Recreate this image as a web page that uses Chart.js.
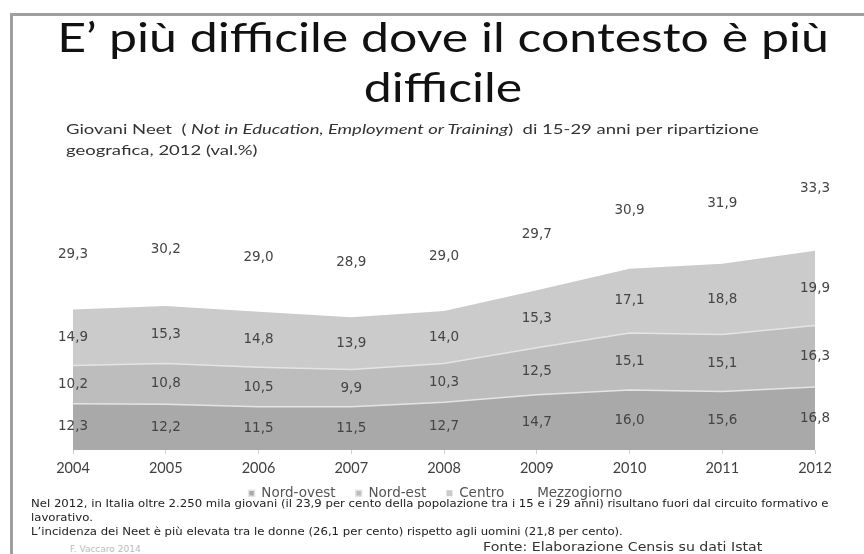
<!DOCTYPE html>
<html>
<head>
<meta charset="utf-8">
<script src="https://cdn.jsdelivr.net/npm/chart.js@4.4.1/dist/chart.umd.min.js"></script>
<style>
  html, body { margin: 0; padding: 0; background: #fff; }
  #wrap { position: relative; width: 864px; height: 554px; overflow: hidden; background: #fff; }
  #frame { position: absolute; left: 10px; top: 13px; width: 870px; height: 600px;
           border-left: 3px solid #a0a0a0; border-top: 3px solid #a0a0a0; }
  .t { position: absolute; white-space: nowrap; z-index: 2; transform-origin: 0 0; }
  #title { left: 0; width: 886px; top: 12px; text-align: center; font-family: Lato, sans-serif;
           font-size: 40px; line-height: 50px; color: #111; transform-origin: 443px 0; transform: scaleX(1.25); }
  #sub { left: 66px; top: 119px; font-family: Lato, sans-serif; font-size: 14px; line-height: 20.5px; color: #333;
         transform: scaleX(1.32); }
  #note { left: 31px; top: 497px; font-family: "DejaVu Sans", sans-serif; font-size: 10px; line-height: 14px;
          color: #222; transform: scaleX(1.17); }
  #fonte { left: 483px; top: 540px; font-family: "DejaVu Sans", sans-serif; font-size: 12px; color: #333;
           transform: scaleX(1.18); }
  #autore { left: 70px; top: 544px; font-family: "DejaVu Sans", sans-serif; font-size: 9px; color: #bbb; }
  #c { position: absolute; left: 0; top: 91px; z-index: 1; }
</style>
</head>
<body>
<div id="wrap">
  <div id="frame"></div>
  <div class="t" id="title">E’ più difficile dove il contesto è più<br>difficile</div>
  <div class="t" id="sub">Giovani Neet&nbsp; ( <i>Not in Education, Employment or Training</i>)&nbsp; di 15-29 anni per ripartizione<br>geografica, 2012 (val.%)</div>
  <canvas id="c" width="864" height="419"></canvas>
  <div class="t" id="note">Nel 2012, in Italia oltre 2.250 mila giovani (il 23,9 per cento della popolazione tra i 15 e i 29 anni) risultano fuori dal circuito formativo e<br>lavorativo.<br>L’incidenza dei Neet è più elevata tra le donne (26,1 per cento) rispetto agli uomini (21,8 per cento).</div>
  <div class="t" id="autore">F. Vaccaro 2014</div>
  <div class="t" id="fonte">Fonte: Elaborazione Censis su dati Istat</div>
</div>
<script>
// anni e valori (%) per ripartizione
const anni = ['2004', '2005', '2006', '2007', '2008', '2009', '2010', '2011', '2012'];
const nordOvest = [12.3, 12.2, 11.5, 11.5, 12.7, 14.7, 16.0, 15.6, 16.8];
const nordEst = [10.2, 10.8, 10.5, 9.9, 10.3, 12.5, 15.1, 15.1, 16.3];
const centro = [14.9, 15.3, 14.8, 13.9, 14.0, 15.3, 17.1, 18.8, 19.9];
const mezzogiorno = [29.3, 30.2, 29.0, 28.9, 29.0, 29.7, 30.9, 31.9, 33.3];

// etichette dei valori al centro di ogni fascia
const etichette = {
  id: 'etichette',
  afterDatasetsDraw(chart) {
    const ctx = chart.ctx;
    const y0 = chart.scales.y.getPixelForValue(0);
    ctx.save();
    ctx.font = '13.5px "DejaVu Sans", sans-serif';
    ctx.fillStyle = '#444';
    ctx.textAlign = 'center';
    ctx.textBaseline = 'middle';
    chart.data.datasets.forEach((ds, i) => {
      const meta = chart.getDatasetMeta(i);
      meta.data.forEach((pt, j) => {
        const base = i === 0 ? y0 : chart.getDatasetMeta(i - 1).data[j].y;
        const testo = ds.data[j].toFixed(1).replace('.', ',');
        ctx.fillText(testo, pt.x, (pt.y + base) / 2);
      });
    });
    ctx.restore();
  }
};

new Chart(document.getElementById('c').getContext('2d'), {
  type: 'line',
  data: {
    labels: anni,
    datasets: [
      { label: 'Nord-ovest', data: nordOvest, backgroundColor: '#a9a9a9', borderColor: '#e4e4e4', borderWidth: 1.5, fill: 'origin' },
      { label: 'Nord-est', data: nordEst, backgroundColor: '#bdbdbd', borderColor: '#e4e4e4', borderWidth: 1.5, fill: '-1' },
      { label: 'Centro', data: centro, backgroundColor: '#cbcbcb', borderColor: '#cbcbcb', borderWidth: 0, fill: '-1' },
      { label: 'Mezzogiorno', data: mezzogiorno, backgroundColor: 'rgba(255,255,255,0)', borderColor: 'rgba(255,255,255,0)', borderWidth: 0, fill: '-1' }
    ]
  },
  options: {
    responsive: false,
    animation: false,
    layout: { padding: { left: 73, right: 49, top: 20.5, bottom: 0 } },
    elements: { point: { radius: 0 }, line: { tension: 0 } },
    scales: {
      x: {
        offset: false,
        grid: { display: true, drawOnChartArea: false, color: '#d0d0d0', tickLength: 4 },
        border: { display: false },
        ticks: { autoSkip: false, maxRotation: 0, padding: 6, color: '#404040', font: { family: 'Lato', size: 14.5 } }
      },
      y: { display: false, stacked: true, min: 0, max: 90 }
    },
    plugins: {
      legend: {
        position: 'bottom',
        labels: {
          boxWidth: 6, boxHeight: 6, padding: 3, color: '#555',
          font: { family: 'DejaVu Sans', size: 13.5 },
          // spazi finali per distanziare le voci come nell'originale
          generateLabels: (chart) => Chart.defaults.plugins.legend.labels.generateLabels(chart)
            .map((l) => ({ ...l, text: l.text + '\u00a0\u00a0\u00a0\u00a0' }))
        }
      },
      tooltip: { enabled: false }
    }
  },
  plugins: [etichette]
});
</script>
</body>
</html>
